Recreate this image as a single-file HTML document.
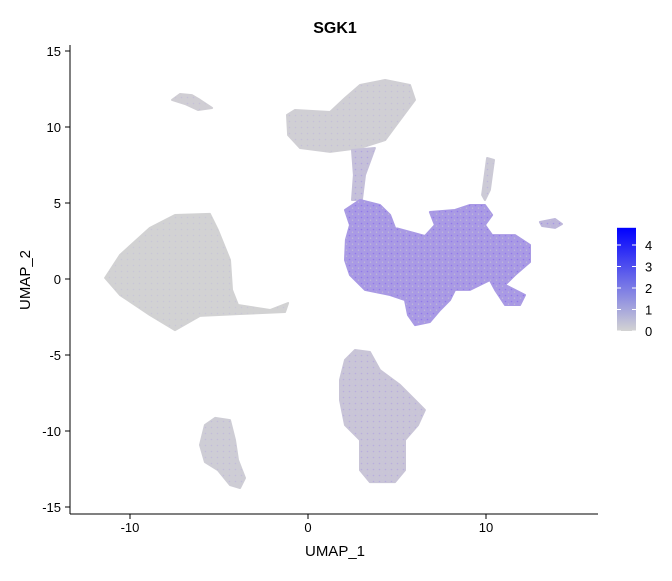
<!DOCTYPE html>
<html><head><meta charset="utf-8"><style>
body{margin:0;background:#fff;}
svg text{font-family:"Liberation Sans",sans-serif;fill:#000;}
</style></head><body>
<svg id="chart" width="672" height="576" xmlns="http://www.w3.org/2000/svg">
<defs>
<linearGradient id="cbar" x1="0" y1="1" x2="0" y2="0">
<stop offset="0" stop-color="#d3d3d3"/><stop offset="1" stop-color="#0000ff"/>
</linearGradient>
<pattern id="speck" width="6" height="6" patternUnits="userSpaceOnUse">
<circle cx="1.5" cy="1.5" r="0.8" fill="#7b5cf0" opacity="0.6"/>
<circle cx="4.5" cy="4.2" r="0.7" fill="#cfcfcf" opacity="0.7"/>
</pattern>
</defs>
<g id="clusters"></g>
<g id="axes"></g>
<text x="335" y="33" text-anchor="middle" font-size="16" font-weight="bold">SGK1</text>
<text x="335" y="556" text-anchor="middle" font-size="15">UMAP_1</text>
<text x="0" y="0" transform="translate(30,280) rotate(-90)" text-anchor="middle" font-size="15">UMAP_2</text>
<g id="legend"></g>
</svg>
<script>
const xTicks=[-10,0,10];
const yTicks=[-15,-10,-5,0,5,10,15];
const legendTicks=[0,1,2,3,4];
const clusterNames=['left-cluster','top-left-cluster','top-cluster','stem','main-cluster','right-small','thread','bottom-cluster','bottom-left-cluster'];
const clusterExpr=[0.03,0.15,0.12,0.6,1.8,0.9,0.3,0.45,0.2];
const clusterShapes=[
[[-11.4,0.07],[-10.56,1.58],[-8.88,3.36],[-7.47,4.21],[-5.51,4.28],[-5.06,3.22],[-4.38,1.25],[-4.27,-0.72],[-3.93,-1.71],[-2.13,-2.04],[-1.12,-1.58],[-1.29,-2.17],[-3.82,-2.3],[-6.07,-2.43],[-7.47,-3.36],[-8.88,-2.37],[-10.56,-1.05]],
[[-7.64,11.78],[-7.19,12.17],[-6.52,12.1],[-6.07,11.78],[-5.39,11.25],[-6.18,11.12],[-6.91,11.51]],
[[-1.18,10.79],[-0.73,11.12],[1.24,10.99],[2.08,11.91],[2.92,12.76],[4.33,13.09],[5.73,12.76],[6.01,11.78],[5.17,10.46],[4.33,9.14],[2.92,8.62],[1.24,8.36],[-0.45,8.62],[-1.12,9.47]],
[[2.47,8.49],[3.76,8.62],[3.2,6.84],[3.03,5.2],[2.47,5.2],[2.58,6.84]],
[[2.08,4.54],[2.92,5.2],[4.04,4.87],[4.61,4.21],[4.89,3.36],[6.57,2.83],[7.13,3.55],[6.85,4.41],[8.26,4.54],[9.1,4.87],[9.94,4.87],[10.34,4.21],[9.94,3.55],[10.34,2.89],[11.63,2.89],[12.47,2.24],[12.47,1.12],[11.63,0.26],[11.07,-0.39],[11.63,-0.72],[12.19,-1.05],[11.91,-1.71],[11.07,-1.71],[10.51,-0.72],[10.22,-0.07],[9.1,-0.72],[8.26,-0.72],[7.98,-1.38],[7.42,-2.04],[6.85,-2.83],[6.01,-3.03],[5.62,-2.37],[5.45,-1.38],[4.61,-1.05],[3.2,-0.72],[2.36,0.26],[2.08,1.25],[2.13,2.57],[2.36,3.55]],
[[13.03,3.75],[13.88,3.95],[14.27,3.62],[13.88,3.36],[13.15,3.49]],
[[10.06,7.96],[10.45,7.83],[10.22,5.86],[9.94,5.2],[9.78,5.53]],
[[2.08,-5.33],[2.64,-4.67],[3.48,-4.8],[4.04,-5.99],[5.17,-6.97],[6.01,-7.96],[6.57,-8.62],[6.18,-9.61],[5.45,-10.59],[5.45,-12.57],[4.89,-13.36],[3.48,-13.36],[2.92,-12.57],[2.92,-10.59],[2.08,-9.61],[1.8,-7.96],[1.8,-6.64]],
[[-5.79,-9.61],[-5.22,-9.14],[-4.38,-9.28],[-4.1,-10.59],[-3.93,-11.91],[-3.54,-13.09],[-3.82,-13.75],[-4.38,-13.55],[-5.06,-12.57],[-5.79,-12.04],[-6.07,-10.92]]
];
const X0=308,XS=17.8,Y0=279,YS=15.2;
function sx(v){return X0+v*XS;}
function sy(v){return Y0-v*YS;}
const ns='http://www.w3.org/2000/svg';
function mk(t,a,p){const e=document.createElementNS(ns,t);for(const k in a)e.setAttribute(k,a[k]);p.appendChild(e);return e;}
function col(v){const t=Math.min(v/4.8,1);const r=Math.round(211+(100-211)*t),g=Math.round(211+(60-211)*t),b=Math.round(211+(255-211)*t);return `rgb(${r},${g},${b})`;}
const cg=document.getElementById('clusters');
clusterShapes.forEach((s,i)=>{
  const d='M'+s.map(p=>sx(p[0]).toFixed(1)+','+sy(p[1]).toFixed(1)).join('L')+'Z';
  const p=mk('path',{d:d,fill:col(clusterExpr[i]),stroke:col(clusterExpr[i]),'stroke-width':2,'stroke-linejoin':'round'},cg);
  
  
  const q=mk('path',{d:d,fill:'url(#speck)',opacity:Math.min(0.15+clusterExpr[i]*0.5,0.9)},cg);
  
  
});
const ax=document.getElementById('axes');
const xl=mk('line',{x1:70,y1:514,x2:598,y2:514,stroke:'#000','stroke-width':1},ax);


const yl=mk('line',{x1:70,y1:45,x2:70,y2:514,stroke:'#000','stroke-width':1},ax);


xTicks.forEach(v=>{
  const t=mk('line',{x1:sx(v),y1:514,x2:sx(v),y2:519,stroke:'#000'},ax);
  
  
  const l=mk('text',{x:sx(v),y:532,'text-anchor':'middle','font-size':13},ax);l.textContent=v;
  
  
});
yTicks.forEach(v=>{
  const t=mk('line',{x1:65,y1:sy(v),x2:70,y2:sy(v),stroke:'#000'},ax);
  
  
  const l=mk('text',{x:61,y:sy(v)+5,'text-anchor':'end','font-size':13},ax);l.textContent=v;
  
  
});
const lg=document.getElementById('legend');
const L0=331,LS=21.5;
const bar=mk('rect',{x:617,y:L0-4.8*LS,width:19,height:4.8*LS,fill:'url(#cbar)'},lg);


legendTicks.forEach(v=>{
  const y=L0-v*LS;
  const a=mk('line',{x1:617,y1:y,x2:621,y2:y,stroke:'#fff'},lg);
  
  
  const b=mk('line',{x1:632,y1:y,x2:636,y2:y,stroke:'#fff'},lg);
  
  
  const l=mk('text',{x:645,y:y+5,'font-size':13},lg);l.textContent=v;
  
  
});
</script>
</body></html>
